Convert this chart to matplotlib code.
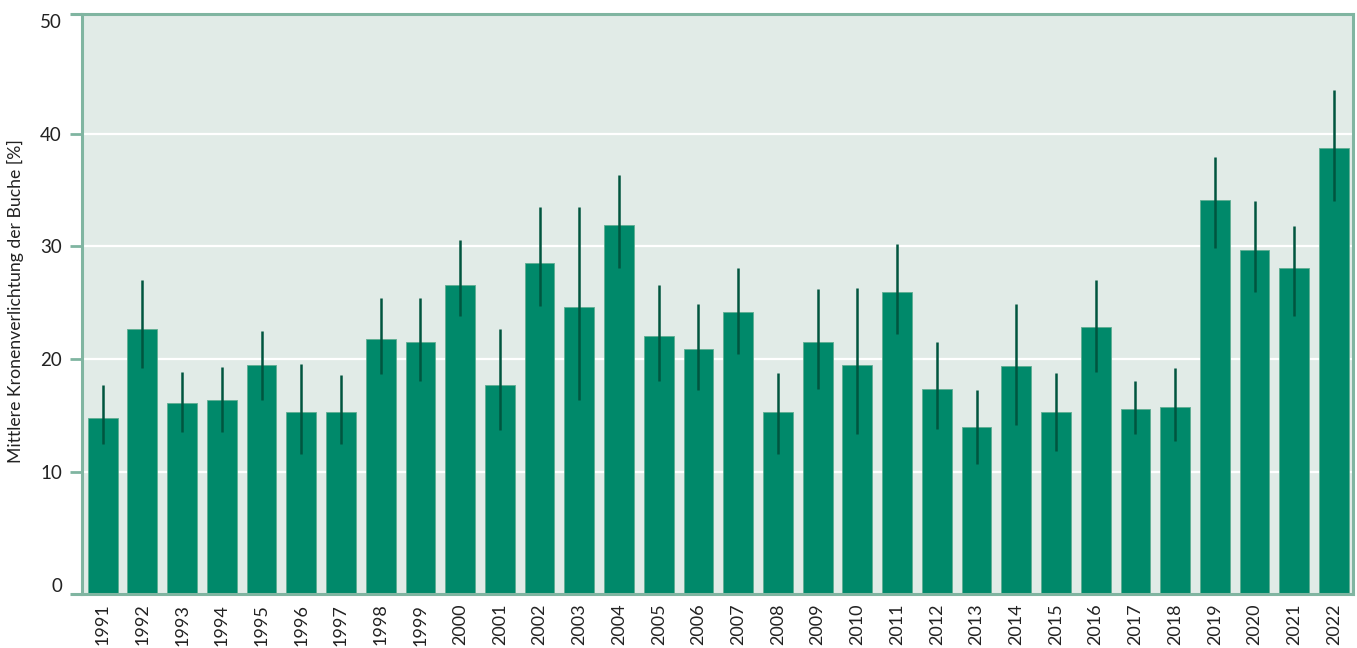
import matplotlib
matplotlib.use("Agg")
import matplotlib.pyplot as plt
import numpy as np

plt.rcParams['font.family'] = ['Lato', 'DejaVu Sans']

years = [str(y) for y in range(1991, 2023)]
mean_defoliation = [14.8, 22.7, 16.1, 16.4, 19.5, 15.3, 15.3, 21.8, 21.5, 26.6,
                    17.7, 28.5, 24.6, 31.9, 22.1, 20.9, 24.2, 15.3, 21.5, 19.5,
                    26.0, 17.4, 14.0, 19.4, 15.3, 22.9, 15.6, 15.8, 34.1, 29.7,
                    28.1, 38.7]
ci_upper = [17.7, 27.0, 18.9, 19.3, 22.5, 19.6, 18.6, 25.4, 25.4, 30.6,
            22.7, 33.5, 33.5, 36.3, 26.6, 24.9, 28.1, 18.8, 26.2, 26.3,
            30.2, 21.5, 17.3, 24.9, 18.8, 27.0, 18.1, 19.2, 37.9, 34.0,
            31.8, 43.9]
ci_lower = [12.5, 19.2, 13.6, 13.6, 16.4, 11.6, 12.5, 18.7, 18.1, 23.8,
            13.7, 24.7, 16.4, 28.1, 18.1, 17.3, 20.5, 11.6, 17.4, 13.4,
            22.2, 13.8, 10.7, 14.2, 11.9, 18.9, 13.4, 12.8, 29.9, 26.0,
            23.8, 34.0]
y_ticks = [0, 10, 20, 30, 40, 50]
y_label = "Mittlere Kronenverlichtung der Buche [%]"

bar_color = "#00896a"
bar_edge = "#5fae92"
err_color = "#00553f"
bg_color = "#e1ebe7"
spine_color = "#80b5a1"

W, H = 1357, 648
fig = plt.figure(figsize=(W / 100, H / 100), dpi=100)
ax_l, ax_r, ax_t, ax_b = 82, 1352.7, 14, 594
ax = fig.add_axes([ax_l / W, 1 - ax_b / H, (ax_r - ax_l) / W, (ax_b - ax_t) / H])
ax.set_facecolor(bg_color)

y_min, y_max = -0.8, 50.6
x = np.arange(len(years))
vals = np.array(mean_defoliation)
yerr = np.vstack([vals - np.array(ci_lower), np.array(ci_upper) - vals])

# bars rise from the bottom frame line up to each year's mean value
ax.bar(x, vals - y_min, bottom=y_min, width=0.75, color=bar_color,
       edgecolor=bar_edge, linewidth=0.6, zorder=2)
ax.errorbar(x, vals, yerr=yerr, fmt='none', ecolor=err_color, elinewidth=1.8,
            capsize=0, zorder=3)

ax.set_xlim(-0.52, 31.47)
ax.set_ylim(y_min, y_max)

ax.set_yticks(y_ticks)
ax.set_yticklabels([str(v) for v in y_ticks], fontsize=13.5, color="#222222")
ax.set_xticks(x)
ax.set_xticklabels(years, rotation=90, fontsize=13, color="#222222")
ax.tick_params(axis='x', length=0, pad=7)
ax.tick_params(axis='y', length=8.6, width=2.0, color=spine_color, pad=5.8)
for t in ax.yaxis.get_major_ticks():
    if t.get_loc() in (0, 50):
        t.tick1line.set_visible(False)

for v in (10, 20, 30, 40):
    ax.axhline(v, color="white", linewidth=1.6, zorder=1)

for s in ax.spines.values():
    s.set_color(spine_color)
    s.set_linewidth(2.2)

# spine stubs on the left, extending top and bottom frame lines
ext = -12 / (ax_r - ax_l)
for yy in (0, 1):
    ax.plot([ext, 0], [yy, yy], transform=ax.transAxes, color=spine_color,
            linewidth=2.2, clip_on=False, solid_capstyle='butt')

fig.text(15 / W, 1 - 301 / H, y_label, rotation=90, ha='center', va='center',
         fontsize=12.7, color="#222222")

fig.savefig("out.png", dpi=100, facecolor="white")
